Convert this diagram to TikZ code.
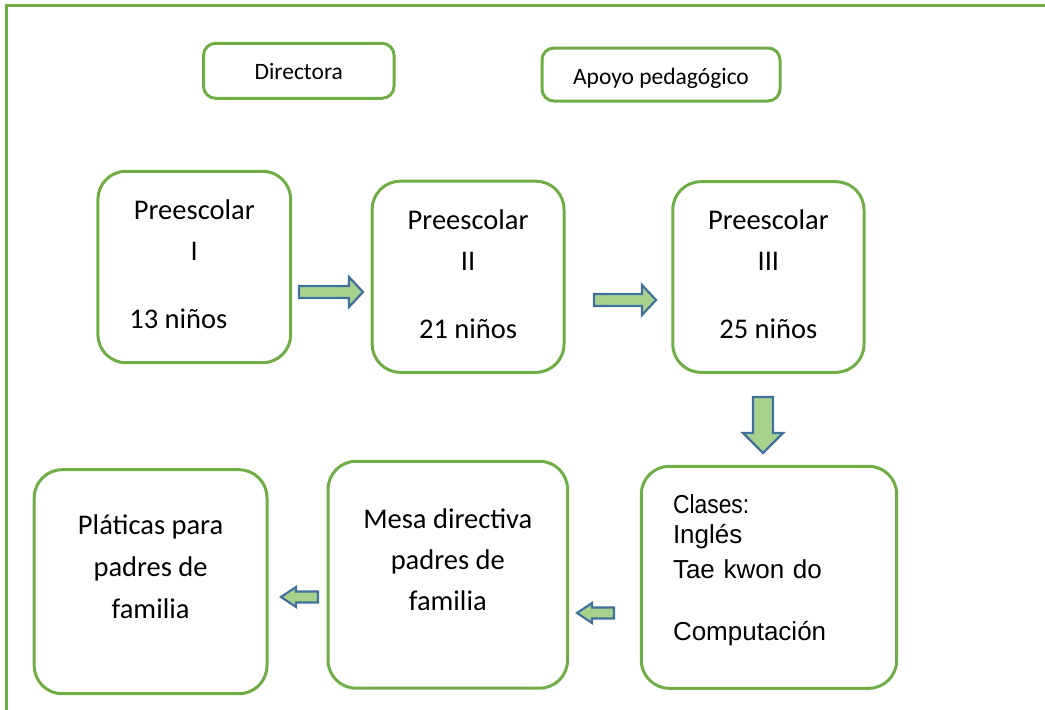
\documentclass[tikz,border=0pt]{standalone}
\usepackage{fontspec}
\setmainfont{Carlito}
\newfontfamily\arialfont{Liberation Sans}
\usetikzlibrary{positioning}

\definecolor{boxgreen}{HTML}{70AD47}
\definecolor{arrowfill}{HTML}{A9D18E}
\definecolor{arrowline}{HTML}{41719C}

\begin{document}
\begin{tikzpicture}[
    x = 1pt, y = -1pt, % pixel grid, y pointing down
    line width = 3pt, % line style
    inner sep = 0pt
    ]

    \tikzset{box/.style={
    draw = boxgreen,
    rounded corners = 28pt,
    align = center,
    anchor = base, % base = last text line
    font = \fontsize{28.5}{41}\selectfont
    }}
    \tikzset{smallbox/.style={box, rounded corners = 12pt,
    font = \fontsize{23.5}{28}\selectfont}}
    \tikzset{blockarrow/.style={
    draw = arrowline,
    fill = arrowfill,
    line width = 2.2pt,
    line join = miter
    }}

    \useasboundingbox (0,0) rectangle (1045,710);
    % outer frame
    \draw[boxgreen] (6.5,715) -- (6.5,5.5) -- (1050,5.5);

    % top row
    \node[smallbox, minimum width = 190.5pt, text height = 36pt, text depth = 19pt]
        (dir) at (298.8,79.3) {Directora};
    \node[smallbox, minimum width = 238pt, text height = 36pt, text depth = 17pt]
        (apoyo) at (661,84) {Apoyo pedagógico};

    % preescolar groups
    \node[box, minimum width = 192.7pt, text height = 157pt, text depth = 34.4pt]
        (pre1) at (194.3,328.3) {Preescolar\\I\\[27pt]13 niños\hspace*{32pt}};
    \node[box, minimum width = 191.8pt, text height = 157.1pt, text depth = 34pt]
        (pre2) at (468.1,338.3) {Preescolar\\II\\[27pt]21 niños};
    \node[box, minimum width = 191.2pt, text height = 156.6pt, text depth = 34pt]
        (pre3) at (768.4,338.3) {Preescolar\\III\\[27pt]25 niños};

    % bottom row (text width: base = first line)
    \node[box, align = left, text width = 192pt, inner xsep = 31.7pt,
        text height = 47pt, text depth = 175pt,
        font = \arialfont\fontsize{26}{30}\selectfont]
        (clases) at (769,513.3)
        {\scalebox{0.88}[1]{Clases:}\\Inglés\\[5pt]Tae kwon do\\[31.7pt]Computación};
    \node[box, minimum width = 239.5pt, text height = 148.7pt, text depth = 78.2pt]
        (mesa) at (447.8,610) {Mesa directiva\\padres de\\familia};
    \node[box, minimum width = 232.8pt, text height = 148.6pt, text depth = 75.4pt,
        font = \fontsize{28.5}{42}\selectfont]
        (platicas) at (150.6,618.3) {Pláticas para\\padres de\\familia};

    % block arrows
    \draw[blockarrow] (299,286) -- (349,286) -- (349,277) -- (363,292)
        -- (349,307) -- (349,298) -- (299,298) -- cycle;
    \draw[blockarrow] (594,294) -- (642,294) -- (642,285) -- (656,300)
        -- (642,315) -- (642,306) -- (594,306) -- cycle;
    \draw[blockarrow] (753,397) -- (753,433) -- (743,433) -- (763,453)
        -- (783,433) -- (773,433) -- (773,397) -- cycle;
    \draw[blockarrow] (614,607.5) -- (592,607.5) -- (592,603) -- (577,613)
        -- (592,623) -- (592,618.5) -- (614,618.5) -- cycle;
    \draw[blockarrow] (318,591.5) -- (296,591.5) -- (296,587) -- (281,597)
        -- (296,607) -- (296,602.5) -- (318,602.5) -- cycle;
\end{tikzpicture}
\end{document}
